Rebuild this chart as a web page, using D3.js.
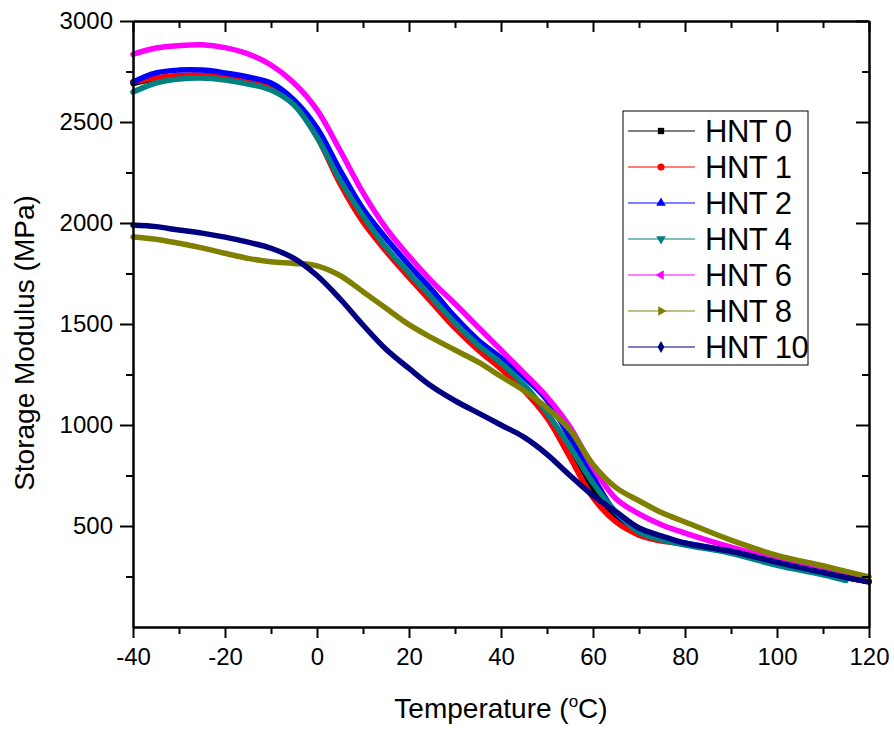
<!DOCTYPE html>
<html>
<head>
<meta charset="utf-8">
<script src="https://cdn.jsdelivr.net/npm/d3@7"></script>
<style>
  body { margin: 0; background: #fff; }
  svg text { font-family: "Liberation Sans", Arial, sans-serif; fill: #000; }
</style>
</head>
<body>
<script>
// temperatures (°C) shared by all curves
const temps = [-40,-35,-30,-25,-20,-15,-10,-5,0,5,10,15,20,25,30,35,40,45,50,55,60,65,70,75,80,90,100,110,115,120];

// storage modulus (MPa)
const hnt0  = [2690,2715,2728,2730,2720,2698,2665,2590,2430,2210,2020,1870,1740,1615,1490,1380,1285,1180,1050,870,680,545,465,430,410,370,315,268,245,225];
const hnt1  = [2700,2718,2730,2732,2722,2700,2668,2590,2425,2195,2005,1860,1730,1605,1480,1372,1278,1170,1035,840,640,520,455,425,410,370,315,268,245,225];
const hnt2  = [2698,2743,2757,2757,2743,2723,2693,2609,2470,2262,2070,1925,1792,1668,1535,1421,1332,1238,1124,936,743,564,480,441,416,375,320,270,246,225];
const hnt4  = [2648,2693,2713,2718,2708,2688,2658,2584,2426,2213,2035,1880,1752,1629,1505,1396,1307,1200,1060,891,713,569,470,431,406,365,305,258,230,null];
const hnt6  = [2835,2866,2878,2882,2868,2837,2782,2693,2560,2360,2150,1975,1835,1710,1600,1485,1371,1257,1139,990,790,635,560,505,465,395,335,280,252,228];
const hnt8  = [1931,1920,1900,1877,1850,1825,1808,1800,1788,1740,1660,1578,1497,1431,1371,1312,1240,1170,1085,975,805,690,625,565,520,430,355,303,275,248];
const hnt10 = [1990,1982,1965,1950,1930,1905,1875,1825,1740,1625,1495,1375,1280,1190,1120,1060,1000,940,855,750,650,570,490,450,415,375,320,270,245,222];

const names  = ["HNT 0","HNT 1","HNT 2","HNT 4","HNT 6","HNT 8","HNT 10"];
const values = [hnt0, hnt1, hnt2, hnt4, hnt6, hnt8, hnt10];
const colors = ["#000000","#ff0000","#0000ff","#008080","#ff00ff","#808000","#000080"];

const xMajor = [-40,-20,0,20,40,60,80,100,120];
const xMinor = [-30,-10,10,30,50,70,90,110];
const yMajor = [500,1000,1500,2000,2500,3000];
const yMinor = [250,750,1250,1750,2250,2750];

const w = 894, h = 729;
const pl = 133, pr = 869, pt = 21, pb = 627;   // plot edges

const svg = d3.select("body").append("svg").attr("width", w).attr("height", h);

const x = d3.scaleLinear().domain([-40, 120]).range([pl, pr]);
const y = d3.scaleLinear().domain([0, 3000]).range([pb, pt]);

// curves (drawn first so the axes sit on top)
const line = d3.line()
  .defined(d => d[1] != null)
  .x(d => x(d[0]))
  .y(d => y(d[1]))
  .curve(d3.curveCatmullRom.alpha(0.5));

values.forEach((vals, i) => {
  svg.append("path")
    .datum(temps.map((t, j) => [t, vals[j]]))
    .attr("fill", "none")
    .attr("stroke", colors[i])
    .attr("stroke-width", 5.5)
    .attr("stroke-linejoin", "round")
    .attr("stroke-linecap", "round")
    .attr("d", line);
});

// axes
const plain = d => String(d);   // keep the hyphen minus like the original

function styleAxis(g) {
  g.select(".domain").attr("stroke", "#000").attr("stroke-width", 2);
  g.selectAll(".tick line").attr("stroke", "#000").attr("stroke-width", 2);
  g.selectAll(".tick text").style("font-size", "24px");
}

svg.append("g").attr("transform", `translate(0,${pb})`)
  .call(d3.axisBottom(x).tickValues(xMajor).tickSize(11).tickSizeOuter(0).tickPadding(10).tickFormat(plain))
  .call(styleAxis);
svg.append("g").attr("transform", `translate(0,${pb})`)
  .call(d3.axisBottom(x).tickValues(xMinor).tickSize(7).tickSizeOuter(0).tickFormat(""))
  .call(styleAxis);

svg.append("g").attr("transform", `translate(0,${pt})`)
  .call(d3.axisTop(x).tickValues(xMajor).tickSize(-11).tickSizeOuter(0).tickFormat(""))
  .call(styleAxis);
svg.append("g").attr("transform", `translate(0,${pt})`)
  .call(d3.axisTop(x).tickValues(xMinor).tickSize(-7).tickSizeOuter(0).tickFormat(""))
  .call(styleAxis);

svg.append("g").attr("transform", `translate(${pl},0)`)
  .call(d3.axisLeft(y).tickValues(yMajor).tickSize(13).tickSizeOuter(0).tickPadding(7).tickFormat(plain))
  .call(styleAxis);
svg.append("g").attr("transform", `translate(${pl},0)`)
  .call(d3.axisLeft(y).tickValues(yMinor).tickSize(7).tickSizeOuter(0).tickFormat(""))
  .call(styleAxis);

svg.append("g").attr("transform", `translate(${pr},0)`)
  .call(d3.axisRight(y).tickValues(yMajor).tickSize(-13).tickSizeOuter(0).tickFormat(""))
  .call(styleAxis);
svg.append("g").attr("transform", `translate(${pr},0)`)
  .call(d3.axisRight(y).tickValues(yMinor).tickSize(-7).tickSizeOuter(0).tickFormat(""))
  .call(styleAxis);

// axis titles
const xt = svg.append("text")
  .attr("x", (pl + pr) / 2).attr("y", 718)
  .attr("text-anchor", "middle")
  .style("font-size", "28px");
xt.append("tspan").text("Temperature (");
xt.append("tspan").attr("dy", -11).style("font-size", "17px").text("o");
xt.append("tspan").attr("dy", 11).text("C)");

svg.append("text")
  .attr("transform", "translate(34,343) rotate(-90)")
  .attr("text-anchor", "middle")
  .style("font-size", "28px")
  .text("Storage Modulus (MPa)");

// legend
const symbols = [
  [d3.symbolSquare, 0], [d3.symbolCircle, 0], [d3.symbolTriangle, 0], [d3.symbolTriangle, 180],
  [d3.symbolTriangle, -90], [d3.symbolTriangle, 90], [d3.symbolDiamond, 0]
];
const legend = svg.append("g");
legend.append("rect")
  .attr("x", 623).attr("y", 111).attr("width", 185).attr("height", 254)
  .attr("fill", "#fff").attr("stroke", "#000").attr("stroke-width", 1);

names.forEach((n, i) => {
  const cy = 131 + i * 36;
  legend.append("line")
    .attr("x1", 628).attr("x2", 695).attr("y1", cy).attr("y2", cy)
    .attr("stroke", colors[i]).attr("stroke-width", 1.2);
  legend.append("path")
    .attr("d", d3.symbol().type(symbols[i][0]).size(40)())
    .attr("transform", `translate(661,${cy}) rotate(${symbols[i][1]})`)
    .attr("fill", colors[i]);
  legend.append("text")
    .attr("x", 705).attr("y", cy + 11)
    .style("font-size", "31px")
    .style("letter-spacing", "-0.5px")
    .text(n);
});
</script>
</body>
</html>
